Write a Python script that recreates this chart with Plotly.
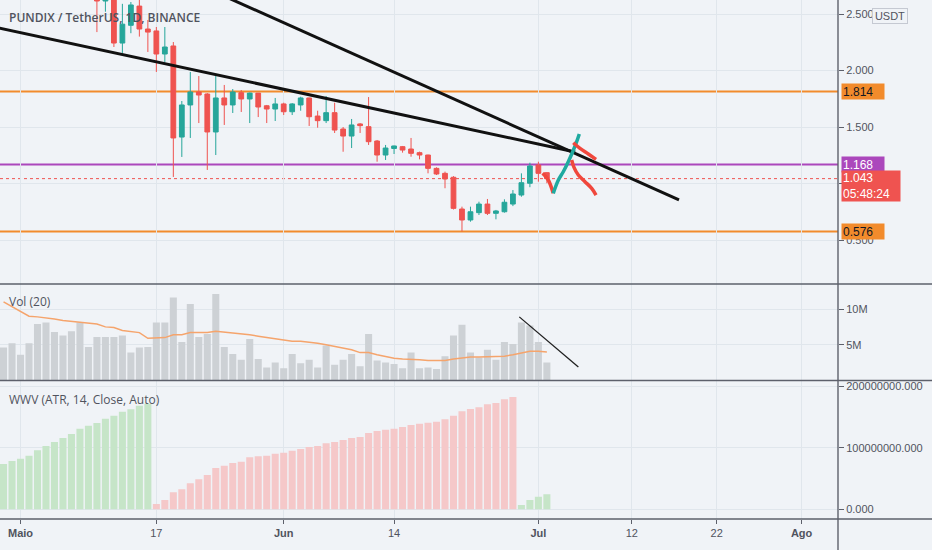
import plotly.graph_objects as go
import pandas as pd

# daily bars shown in the lower panels
dates = pd.date_range("2021-04-29", "2021-07-02", freq="D")

volume_m = [4.6, 5.2, 3.6, 5.2, 7.9, 8.1, 6.8, 6.3, 6.9, 8.1, 4.7, 6.1, 6.1, 6.1, 6.3, 3.9, 4.6, 4.7,
            8.1, 8.1, 11.6, 5.4, 10.7, 6.1, 6.5, 12.1, 4.7, 3.7, 2.9, 5.8, 3.0, 1.8, 2.5,
            1.7, 3.7, 2.4, 2.9, 1.8, 4.9, 2.2, 2.9, 3.7, 2.0, 6.5, 2.8, 2.5, 2.3, 1.7, 3.9,
            1.7, 1.8, 1.6, 3.4, 6.3, 7.8, 3.9, 3.2, 4.3, 2.9, 5.4, 5.1, 8.1, 7.7, 5.4, 2.5]
vol_ma_m = [11.0, 10.3, 9.7, 9.0, 8.9, 8.8, 8.6, 8.4, 8.3, 8.2, 8.1, 7.9, 7.5, 7.4, 7.0, 6.8, 6.7, 5.9,
            5.9, 6.0, 6.4, 6.4, 6.7, 6.7, 6.7, 6.9, 6.8, 6.7, 6.5, 6.4, 6.2, 6.0, 5.9,
            5.7, 5.5, 5.5, 5.4, 5.2, 5.0, 4.8, 4.5, 4.3, 3.9, 3.9, 3.6, 3.3, 3.1, 3.0, 3.0,
            2.9, 2.8, 2.8, 2.8, 3.0, 3.2, 3.3, 3.3, 3.3, 3.3, 3.4, 3.6, 3.8, 4.1, 4.1, 4.0]
wwv_m = [73.7, 78.5, 82.3, 87.2, 95.9, 102.9, 109.4, 115.9, 122.4, 131.1, 135.9, 140.3, 147.3, 152.2,
         158.7, 162.6, 168.5, 171.7, 8.6, 15.1, 27.6, 32.5, 42.3, 48.8, 55.8, 67.2, 70.9, 75.3, 77.4,
         84.6, 86.2, 87.2, 90.4, 92.0, 95.3, 98.0, 101.3, 102.9, 107.3, 109.4, 112.7, 115.9, 117.6,
         124.1, 127.3, 129.4, 131.1, 133.8, 137.1, 139.2, 140.8, 142.4, 146.3, 152.2, 159.3, 163.1,
         165.9, 170.7, 172.8, 178.9, 182.6, 7.0, 15.1, 20.5, 24.4]
wwv_up = [True] * 18 + [False] * 43 + [True] * 4

# candles visible inside the price panel
candle_dates = pd.date_range("2021-05-10", "2021-07-02", freq="D")
opens = [2.72, 2.615, 2.75, 2.243, 2.40, 2.57, 2.367, 2.35, 2.146, 2.217, 1.411, 1.695, 1.81, 1.792,
         1.456, 1.757, 1.695, 1.804, 1.748, 1.80, 1.688, 1.659,
         1.704, 1.635, 1.695, 1.757, 1.597, 1.556, 1.627, 1.482, 1.42, 1.527, 1.503, 1.376, 1.252,
         1.31, 1.326, 1.305, 1.273, 1.252, 1.134, 1.09, 1.055, 0.774, 0.677, 0.742, 0.818, 0.736,
         0.75, 0.818, 0.898, 1.002, 1.164, 1.096]
highs = [2.85, 2.80, 2.90, 2.59, 2.606, 2.66, 2.447, 2.385, 2.385, 2.252, 1.73, 1.987, 1.951, 1.80,
         1.951, 1.872, 1.836, 1.827, 1.805, 1.80, 1.695, 1.757,
         1.715, 1.712, 1.768, 1.76, 1.644, 1.774, 1.715, 1.50, 1.571, 1.535, 1.765, 1.385, 1.341,
         1.335, 1.332, 1.403, 1.282, 1.255, 1.143, 1.105, 1.065, 0.795, 0.795, 0.839, 0.863, 0.766,
         0.86, 0.942, 1.09, 1.184, 1.193, 1.10]
lows = [2.34, 2.52, 2.208, 2.155, 2.33, 2.30, 2.164, 1.987, 2.075, 1.058, 1.235, 1.403, 1.535, 1.12,
        1.252, 1.518, 1.624, 1.633, 1.535, 1.588, 1.535, 1.553,
        1.606, 1.606, 1.644, 1.509, 1.494, 1.535, 1.447, 1.281, 1.314, 1.447, 1.341, 1.193, 1.208,
        1.261, 1.273, 1.237, 1.214, 1.09, 1.075, 0.958, 0.77, 0.576, 0.662, 0.721, 0.721, 0.683,
        0.742, 0.80, 0.883, 0.967, 1.016, 1.002]
closes = [2.615, 2.70, 2.243, 2.41, 2.58, 2.367, 2.34, 2.146, 2.208, 1.403, 1.695, 1.81, 1.783, 1.456,
          1.757, 1.695, 1.81, 1.748, 1.80, 1.677, 1.659, 1.704,
          1.635, 1.704, 1.757, 1.591, 1.556, 1.627, 1.473, 1.42, 1.518, 1.512, 1.37, 1.252, 1.314,
          1.332, 1.296, 1.267, 1.252, 1.134, 1.084, 1.04, 0.78, 0.677, 0.75, 0.818, 0.736, 0.757,
          0.834, 0.907, 1.007, 1.155, 1.09, 1.043]

# drawn levels and trend lines
resistance = 1.814
support = 0.576
mid_level = 1.168
last_price = 1.043
countdown = "05:48:24"

trend_a_x = ["2021-04-26 05:30", "2021-07-05 08:00"]
trend_a_y = [2.412, 1.279]
trend_b_x = ["2021-05-24 12:00", "2021-07-17 13:30"]
trend_b_y = [2.675, 0.854]
vol_trend_x = ["2021-06-28 18:00", "2021-07-05 17:00"]
vol_trend_y = [8.9e6, 1.9e6]

# hand drawn brush strokes
stroke_red1_x = ["2021-07-01 12:00", "2021-07-02 04:00", "2021-07-02 18:00"]
stroke_red1_y = [1.090, 1.031, 0.913]
stroke_teal_x = ["2021-07-02 18:00", "2021-07-03 08:30", "2021-07-03 22:20", "2021-07-04 12:30",
                 "2021-07-05 01:00", "2021-07-05 12:15", "2021-07-05 19:40"]
stroke_teal_y = [0.913, 1.031, 1.104, 1.193, 1.281, 1.370, 1.438]
stroke_red2_x = ["2021-07-05 02:40", "2021-07-05 21:40", "2021-07-06 21:10", "2021-07-07 19:00"]
stroke_red2_y = [1.361, 1.311, 1.261, 1.214]
stroke_red3_x = ["2021-07-04 22:00", "2021-07-05 04:40", "2021-07-05 16:50", "2021-07-06 11:45",
                 "2021-07-07 06:40", "2021-07-07 19:00"]
stroke_red3_y = [1.208, 1.143, 1.075, 1.016, 0.957, 0.898]

x_ticks = ["2021-05-01", "2021-05-17", "2021-06-01", "2021-06-14", "2021-07-01", "2021-07-12",
           "2021-07-22", "2021-08-01"]
x_labels = ["<b>Maio</b>", "17", "<b>Jun</b>", "14", "<b>Jul</b>", "12", "22", "<b>Ago</b>"]

BG = "#f0f3f7"
GRID = "#e0e6ec"
AXC = "#5d606b"
TXT = "#50535e"
UP = "#26a69a"
DOWN = "#ef5350"
ORANGE = "#f28b2c"
PURPLE = "#ab47bc"

fig = go.Figure()

# volume
fig.add_trace(go.Bar(x=dates, y=[v * 1e6 for v in volume_m], yaxis="y2",
                     marker=dict(color="#cdd1d5", line=dict(width=0))))
fig.add_trace(go.Scatter(x=dates, y=[v * 1e6 for v in vol_ma_m], yaxis="y2", mode="lines",
                         line=dict(color="#f5a46c", width=1.5)))
fig.add_trace(go.Scatter(x=vol_trend_x, y=vol_trend_y, yaxis="y2", mode="lines",
                         line=dict(color="#1e1e1e", width=1.3)))

# wwv
fig.add_trace(go.Bar(x=dates, y=[v * 1e6 for v in wwv_m], yaxis="y3",
                     marker=dict(color=["#c6e5c8" if u else "#f5c8c9" for u in wwv_up],
                                 line=dict(width=0))))

# price
fig.add_trace(go.Candlestick(x=candle_dates, open=opens, high=highs, low=lows, close=closes,
                             increasing=dict(line=dict(color=UP, width=1), fillcolor=UP),
                             decreasing=dict(line=dict(color=DOWN, width=1), fillcolor=DOWN),
                             whiskerwidth=0))
for sx, sy in [(trend_a_x, trend_a_y), (trend_b_x, trend_b_y)]:
    fig.add_trace(go.Scatter(x=sx, y=sy, mode="lines", line=dict(color="#111111", width=3)))
for sx, sy, col in [(stroke_red1_x, stroke_red1_y, "#f0473c"),
                    (stroke_teal_x, stroke_teal_y, "#1faaa0"),
                    (stroke_red2_x, stroke_red2_y, "#f0473c"),
                    (stroke_red3_x, stroke_red3_y, "#f0473c")]:
    fig.add_trace(go.Scatter(x=sx, y=sy, mode="lines",
                             line=dict(color=col, width=3.5, shape="spline")))

# horizontal levels
for lvl, col, w, dash in [(resistance, ORANGE, 2, "solid"), (support, ORANGE, 2, "solid"),
                          (mid_level, PURPLE, 2, "solid"), (last_price, DOWN, 1, "dot")]:
    fig.add_shape(type="line", xref="paper", x0=0, x1=1, yref="y", y0=lvl, y1=lvl,
                  line=dict(color=col, width=w, dash=dash), layer="below")

# panel separators and axis lines
full_w = 932 / 838
for yy in [0.4528, 0.2669, 0.0]:
    fig.add_shape(type="line", xref="paper", yref="paper", x0=0, x1=full_w, y0=yy, y1=yy,
                  line=dict(color=AXC, width=1.6))
fig.add_shape(type="line", xref="paper", yref="paper", x0=1, x1=1, y0=-31 / 519, y1=1,
              line=dict(color=AXC, width=1.4))

# price labels on the scale
for lvl, bg, fc, txt in [(resistance, ORANGE, "#131722", "1.814"),
                         (mid_level, PURPLE, "white", "1.168"),
                         (support, ORANGE, "#131722", "0.576")]:
    fig.add_annotation(xref="paper", x=1, xanchor="left", xshift=3, yref="y", y=lvl,
                       text=txt, showarrow=False, bgcolor=bg, width=40, height=13,
                       align="left", font=dict(family="Liberation Sans", size=12, color=fc))
fig.add_annotation(xref="paper", x=1, xanchor="left", xshift=3, yref="y", y=last_price,
                   yanchor="top", yshift=9, text=str(last_price) + "<br>" + countdown,
                   showarrow=False, bgcolor=DOWN, width=56, height=28, align="left",
                   font=dict(family="Liberation Sans", size=12, color="white"))
fig.add_annotation(xref="paper", x=1, xanchor="left", xshift=34, yref="paper", y=1,
                   yanchor="top", yshift=-8, text="USDT", showarrow=False, bgcolor=BG,
                   bordercolor="#c5c9d2", borderwidth=1, width=32, height=12,
                   font=dict(family="Liberation Sans", size=11, color=TXT))

# panel titles
fig.add_annotation(xref="paper", x=0, xanchor="left", xshift=7, yref="paper", y=1,
                   yanchor="middle", yshift=-17, text="PUNDIX / TetherUS, 1D, BINANCE",
                   showarrow=False, font=dict(family="Open Sans", size=12, color=TXT, weight=600))
fig.add_annotation(xref="paper", x=0, xanchor="left", xshift=7, yref="paper", y=0.4528,
                   yanchor="middle", yshift=-18, text="Vol (20)", showarrow=False,
                   font=dict(family="Open Sans", size=12, color=TXT))
fig.add_annotation(xref="paper", x=0, xanchor="left", xshift=7, yref="paper", y=0.2669,
                   yanchor="middle", yshift=-19, text="WWV (ATR, 14, Close, Auto)",
                   showarrow=False, font=dict(family="Open Sans", size=12, color=TXT))

tickfont = dict(family="Liberation Sans", size=11, color=TXT)
fig.update_layout(
    width=932, height=550,
    margin=dict(l=0, r=94, t=0, b=31),
    paper_bgcolor=BG, plot_bgcolor=BG,
    showlegend=False, bargap=0.17, boxgap=0.2,
    xaxis=dict(type="date", range=["2021-04-28 14:00", "2021-08-05 07:00"],
               tickvals=x_ticks, ticktext=x_labels, tickfont=tickfont,
               ticks="outside", ticklen=4, tickcolor=AXC,
               showgrid=True, gridcolor=GRID, gridwidth=1,
               showline=False, zeroline=False, anchor="y3",
               rangeslider=dict(visible=False)),
    # the 1.000 label sits under the last-price box, so only its grid line shows
    yaxis=dict(domain=[0.4528, 1], range=[0.1106, 2.6239], side="right", anchor="x",
               tickvals=[0.5, 1.0, 1.5, 2.0, 2.5],
               ticktext=["0.500", "", "1.500", "2.000", "2.500"],
               ticks="outside", ticklen=5, tickcolor=AXC, tickfont=tickfont,
               showgrid=True, gridcolor=GRID, zeroline=False, showline=False),
    yaxis2=dict(domain=[0.2669, 0.4528], range=[0, 13.5e6], side="right", anchor="x",
                tickvals=[5e6, 10e6], ticktext=["5M", "10M"],
                ticks="outside", ticklen=5, tickcolor=AXC, tickfont=tickfont,
                showgrid=True, gridcolor=GRID, zeroline=False, showline=False),
    yaxis3=dict(domain=[0, 0.2669], range=[-15.8e6, 209.4e6], side="right", anchor="x",
                tickvals=[0, 1e8, 2e8],
                ticktext=["0.000", "100000000.000", "200000000.000"],
                ticks="outside", ticklen=5, tickcolor=AXC, tickfont=tickfont,
                showgrid=True, gridcolor=GRID, zeroline=False, showline=False),
)

# the page body has a default margin; remove it so the chart sits at the corner
fig.write_html("out.html", config={"displayModeBar": False},
               post_script="document.body.style.margin='0';document.body.style.background='%s';" % BG)
